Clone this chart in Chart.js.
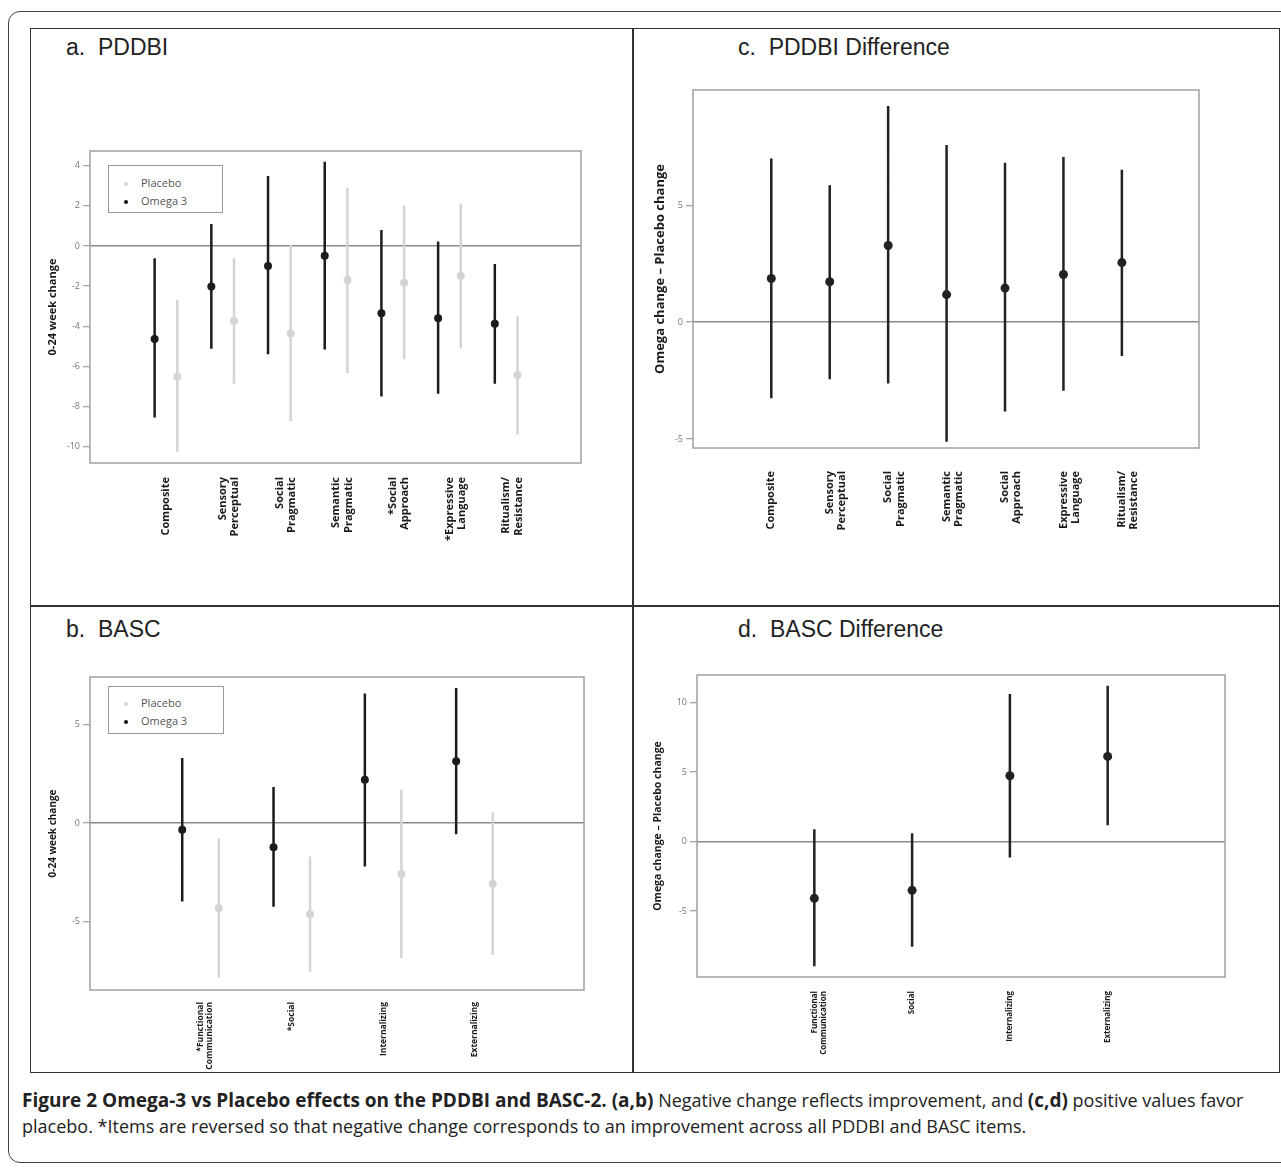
<!DOCTYPE html>
<html>
<head>
<meta charset="utf-8">
<script src="https://cdn.jsdelivr.net/npm/chart.js@4.4.1/dist/chart.umd.min.js"></script>
<style>
  body { margin: 0; background: #fff; }
  #page { position: relative; width: 1281px; height: 1170px; overflow: hidden; font-family: 'Liberation Sans', Arial, sans-serif; }
  .frame { position: absolute; left: 8px; top: 11px; width: 1300px; height: 1152px; border: 1.5px solid #444; border-radius: 12px; box-sizing: border-box; }
  .grid { position: absolute; left: 30px; top: 28px; width: 1250px; height: 1045px; border: 1.5px solid #333; box-sizing: border-box; }
  .vline { position: absolute; left: 632px; top: 28px; width: 1.5px; height: 1045px; background: #333; }
  .hline { position: absolute; left: 30px; top: 605px; width: 1250px; height: 1.5px; background: #333; }
  .title { position: absolute; font-size: 23px; line-height: 28px; color: #222; white-space: pre; }
  canvas { position: absolute; }
  .legend { position: absolute; border: 1.5px solid #999; background: #fff; box-sizing: border-box;
            font-family: 'Open Sans', sans-serif; font-size: 11px; color: #555; }
  .legend span { position: absolute; line-height: 14px; }
  .dot { position: absolute; width: 4px; height: 4px; border-radius: 50%; }
  .caption { position: absolute; left: 22px; font-family: 'Open Sans', sans-serif; font-size: 18px; line-height: 25px; color: #222; white-space: nowrap; }
  .caption b { font-size: 19px; }
</style>
</head>
<body>
<div id="page">
  <div class="frame"></div>
  <div class="grid"></div>
  <div class="vline"></div>
  <div class="hline"></div>

  <div class="title" style="left:66px; top:33px;">a.  PDDBI</div>
  <div class="title" style="left:738px; top:33px;">c.  PDDBI Difference</div>
  <div class="title" style="left:66px; top:615px;">b.  BASC</div>
  <div class="title" style="left:738px; top:615px;">d.  BASC Difference</div>

  <canvas id="chartA" width="600" height="575" style="left:31px; top:29px;"></canvas>
  <canvas id="chartC" width="643" height="575" style="left:634px; top:29px;"></canvas>
  <canvas id="chartB" width="600" height="465" style="left:31px; top:607px;"></canvas>
  <canvas id="chartD" width="643" height="465" style="left:634px; top:607px;"></canvas>

  <div class="legend" style="left:108px; top:165px; width:115px; height:48px;">
    <div class="dot" style="left:15px; top:16px; background:#d6d6d6;"></div>
    <span style="left:32px; top:10px;">Placebo</span>
    <div class="dot" style="left:15px; top:34px; background:#111;"></div>
    <span style="left:32px; top:28px;">Omega 3</span>
  </div>
  <div class="legend" style="left:108px; top:686px; width:116px; height:48px;">
    <div class="dot" style="left:15px; top:15px; background:#d6d6d6;"></div>
    <span style="left:32px; top:9px;">Placebo</span>
    <div class="dot" style="left:15px; top:33px; background:#111;"></div>
    <span style="left:32px; top:27px;">Omega 3</span>
  </div>

  <div class="caption" style="top:1088px;"><b>Figure 2 Omega-3 vs Placebo effects on the PDDBI and BASC-2. (a,b)</b> Negative change reflects improvement, and <b>(c,d)</b> positive values favor</div>
  <div class="caption" style="top:1114px;">placebo. *Items are reversed so that negative change corresponds to an improvement across all PDDBI and BASC items.</div>
</div>

<script>
// PDDBI, panel a
const pddbiCategories = [['Composite'], ['Sensory', 'Perceptual'], ['Social', 'Pragmatic'], ['Semantic', 'Pragmatic'],
                         ['*Social', 'Approach'], ['*Expressive', 'Language'], ['Ritualism/', 'Resistance']];
const pddbiOmegaMean = [-4.63, -2.02, -1.00, -0.48, -3.35, -3.59, -3.87];
const pddbiOmegaLow = [-8.53, -5.11, -5.39, -5.15, -7.49, -7.35, -6.85];
const pddbiOmegaHigh = [-0.61, 1.10, 3.49, 4.20, 0.80, 0.22, -0.90];
const pddbiPlaceboMean = [-6.51, -3.73, -4.35, -1.69, -1.83, -1.48, -6.42];
const pddbiPlaceboLow = [-10.24, -6.85, -8.71, -6.32, -5.64, -5.10, -9.38];
const pddbiPlaceboHigh = [-2.69, -0.61, 0.08, 2.90, 2.01, 2.11, -3.49];
const pddbiTicks = [-10, -8, -6, -4, -2, 0, 2, 4];

// PDDBI difference, panel c
const pddbiDiffCategories = [['Composite'], ['Sensory', 'Perceptual'], ['Social', 'Pragmatic'], ['Semantic', 'Pragmatic'],
                             ['Social', 'Approach'], ['Expressive', 'Language'], ['Ritualism/', 'Resistance']];
const pddbiDiffMean = [1.87, 1.73, 3.28, 1.18, 1.46, 2.04, 2.55];
const pddbiDiffLow = [-3.25, -2.44, -2.62, -5.11, -3.82, -2.93, -1.45];
const pddbiDiffHigh = [7.00, 5.86, 9.25, 7.58, 6.82, 7.06, 6.52];
const pddbiDiffTicks = [-5, 0, 5];

// BASC, panel b
const bascCategories = [['*Functional', 'Communication'], ['*Social'], ['Internalizing'], ['Externalizing']];
const bascOmegaMean = [-0.34, -1.22, 2.20, 3.14];
const bascOmegaLow = [-3.98, -4.24, -2.20, -0.56];
const bascOmegaHigh = [3.31, 1.83, 6.58, 6.86];
const bascPlaceboMean = [-4.32, -4.63, -2.58, -3.08];
const bascPlaceboLow = [-7.85, -7.54, -6.86, -6.69];
const bascPlaceboHigh = [-0.76, -1.69, 1.69, 0.56];
const bascTicks = [-5, 0, 5];

// BASC difference, panel d
const bascDiffCategories = [['Functional', 'Communication'], ['Social'], ['Internalizing'], ['Externalizing']];
const bascDiffMean = [-4.08, -3.50, 4.75, 6.14];
const bascDiffLow = [-8.96, -7.56, -1.13, 1.18];
const bascDiffHigh = [0.89, 0.60, 10.63, 11.23];
const bascDiffTicks = [-5, 0, 5, 10];

const OMEGA = '#1c1c1c';
const PLACEBO = '#d4d4d4';

// frame round the plotting area
const plotBox = {
    id: 'plotBox',
    beforeDatasetsDraw(chart) {
        const { ctx, chartArea: a } = chart;
        ctx.save();
        ctx.strokeStyle = '#a0a0a0';
        ctx.lineWidth = 1.5;
        ctx.strokeRect(a.left, a.top, a.right - a.left, a.bottom - a.top);
        ctx.restore();
    }
};

// vertical interval lines: low -> high, then a gap
const whiskers = (low, high, shift) => {
    const pts = [];
    low.forEach((lo, i) => {
        pts.push({ x: i + shift, y: lo }, { x: i + shift, y: high[i] }, { x: i + shift, y: null });
    });
    return pts;
};
const means = (mean, shift) => mean.map((m, i) => ({ x: i + shift, y: m }));

const makeChart = (id, p) => {
    const canvas = document.getElementById(id);
    const left = parseFloat(canvas.style.left), top = parseFloat(canvas.style.top);
    const W = canvas.width, H = canvas.height;
    const padL = p.titleX - left - p.titleSize * 1.2 / 2;

    const datasets = [];
    p.series.forEach(s => {
        datasets.push({
            data: whiskers(s.low, s.high, s.shift), showLine: true, borderColor: s.color,
            borderWidth: s.width, pointRadius: 0, spanGaps: false
        });
        datasets.push({
            data: means(s.mean, s.shift), showLine: false, pointRadius: s.radius,
            pointBackgroundColor: s.color, pointBorderWidth: 0
        });
    });

    new Chart(canvas.getContext('2d'), {
        type: 'scatter',
        data: { datasets: datasets },
        options: {
            responsive: false,
            animation: false,
            layout: { padding: { left: padL, top: p.area.t - top, right: left + W - p.area.r, bottom: 0 } },
            plugins: { legend: { display: false }, tooltip: { enabled: false } },
            scales: {
                x: {
                    type: 'linear', min: p.xMin, max: p.xMax,
                    afterBuildTicks: scale => { scale.ticks = p.categories.map((c, i) => ({ value: i })); },
                    afterFit: scale => { scale.height = top + H - p.area.b; },
                    grid: { display: false, drawTicks: false },
                    border: { display: false },
                    ticks: {
                        autoSkip: false, minRotation: 90, maxRotation: 90, padding: p.labelPad,
                        color: '#1a1a1a', font: { family: 'Open Sans', weight: 'bold', size: p.labelSize, lineHeight: 1.12 },
                        callback: v => p.categories[v]
                    }
                },
                y: {
                    min: p.yMin, max: p.yMax,
                    afterBuildTicks: scale => { scale.ticks = p.yTicks.map(v => ({ value: v })); },
                    afterFit: scale => { scale.width = p.area.l - left - padL; },
                    grid: {
                        color: c => (c.tick && c.tick.value === 0 ? '#8a8a8a' : 'rgba(0,0,0,0)'),
                        lineWidth: 1.5, tickColor: '#8a8a8a', tickLength: 7, tickWidth: 1
                    },
                    border: { display: false },
                    ticks: { padding: 3, color: '#777', font: { family: 'Open Sans', size: 9 } },
                    title: {
                        display: true, text: p.yTitle, color: '#1a1a1a', padding: 0,
                        font: { family: 'Open Sans', weight: 'bold', size: p.titleSize }
                    }
                }
            }
        },
        plugins: [plotBox]
    });
};

makeChart('chartA', {
    categories: pddbiCategories, yTicks: pddbiTicks, yMin: -10.8, yMax: 4.73, xMin: -1.34, xMax: 7.32,
    area: { l: 90, t: 151, r: 581, b: 463 }, titleX: 53, titleSize: 11, labelSize: 11, labelPad: 14,
    yTitle: '0-24 week change',
    series: [
        { mean: pddbiPlaceboMean, low: pddbiPlaceboLow, high: pddbiPlaceboHigh, shift: 0.2, color: PLACEBO, width: 2.5, radius: 4 },
        { mean: pddbiOmegaMean, low: pddbiOmegaLow, high: pddbiOmegaHigh, shift: -0.2, color: OMEGA, width: 2.5, radius: 4 }
    ]
});

makeChart('chartC', {
    categories: pddbiDiffCategories, yTicks: pddbiDiffTicks, yMin: -5.38, yMax: 9.93, xMin: -1.34, xMax: 7.32,
    area: { l: 693, t: 90, r: 1199, b: 448 }, titleX: 660, titleSize: 13, labelSize: 11, labelPad: 23,
    yTitle: 'Omega change \u2013 Placebo change',
    series: [
        { mean: pddbiDiffMean, low: pddbiDiffLow, high: pddbiDiffHigh, shift: 0, color: '#222', width: 2.5, radius: 4.5 }
    ]
});

makeChart('chartB', {
    categories: bascCategories, yTicks: bascTicks, yMin: -8.47, yMax: 7.42, xMin: -1.21, xMax: 4.20,
    area: { l: 90, t: 677, r: 584, b: 990 }, titleX: 53, titleSize: 10, labelSize: 8.5, labelPad: 12,
    yTitle: '0-24 week change',
    series: [
        { mean: bascPlaceboMean, low: bascPlaceboLow, high: bascPlaceboHigh, shift: 0.2, color: PLACEBO, width: 2.5, radius: 4 },
        { mean: bascOmegaMean, low: bascOmegaLow, high: bascOmegaHigh, shift: -0.2, color: OMEGA, width: 2.5, radius: 4 }
    ]
});

makeChart('chartD', {
    categories: bascDiffCategories, yTicks: bascDiffTicks, yMin: -9.74, yMax: 12.0, xMin: -1.20, xMax: 4.20,
    area: { l: 697, t: 675, r: 1225, b: 977 }, titleX: 658, titleSize: 10.5, labelSize: 8, labelPad: 14,
    yTitle: 'Omega change \u2013 Placebo change',
    series: [
        { mean: bascDiffMean, low: bascDiffLow, high: bascDiffHigh, shift: 0, color: '#222', width: 2.5, radius: 4.5 }
    ]
});
</script>
</body>
</html>
